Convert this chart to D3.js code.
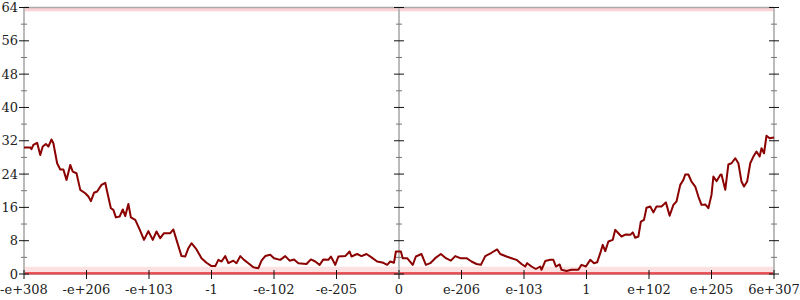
<!DOCTYPE html>
<html>
<head>
<meta charset="utf-8">
<script src="https://cdnjs.cloudflare.com/ajax/libs/d3/7.8.5/d3.min.js"></script>
<style>
    body { margin: 0; background: white; }
    svg text { font-family: "DejaVu Serif", serif; font-size: 13px; fill: #222; }
</style>
</head>
<body>
<div id="chart"></div>
<script>

// x-axis: 13 evenly spaced positions over the float range
var xTickLabels = ["-e+308", "-e+206", "-e+103", "-1", "-e-102", "-e-205", "0",
    "e-206", "e-103", "1", "e+102", "e+205", "6e+307"];

var yTicks = [0, 8, 16, 24, 32, 40, 48, 56, 64];
var yMinorTicks = [4, 12, 20, 28, 36, 44, 52, 60];

// bits of error, position in tick units (0..12)
var errX = [0, 0.10, 0.12, 0.15, 0.21, 0.26, 0.30, 0.35, 0.39, 0.44, 0.47, 0.53, 0.58, 0.63, 0.68, 0.74,
    0.78, 0.84, 0.90, 0.98, 1.03, 1.07, 1.12, 1.17, 1.24, 1.30, 1.33, 1.39, 1.43, 1.47, 1.53, 1.58,
    1.62, 1.67, 1.71, 1.78, 1.85, 1.92, 1.99, 2.06, 2.12, 2.18, 2.24, 2.34, 2.39, 2.44, 2.52, 2.58,
    2.63, 2.68, 2.76, 2.84, 2.92, 3.00, 3.06, 3.11, 3.16, 3.22, 3.27, 3.35, 3.40, 3.46, 3.52, 3.59,
    3.67, 3.75, 3.80, 3.86, 3.94, 4.00, 4.10, 4.18, 4.25, 4.32, 4.39, 4.52, 4.59, 4.66, 4.73, 4.79,
    4.87, 4.91, 4.98, 5.03, 5.14, 5.21, 5.24, 5.33, 5.40, 5.48, 5.56, 5.65, 5.75, 5.81, 5.86, 5.92,
    5.95, 6.03, 6.06, 6.13, 6.22, 6.27, 6.36, 6.43, 6.50, 6.58, 6.67, 6.75, 6.83, 6.90, 6.98, 7.08,
    7.16, 7.24, 7.31, 7.38, 7.48, 7.57, 7.62, 7.72, 7.80, 7.88, 7.96, 8.02, 8.05, 8.12, 8.19, 8.26,
    8.28, 8.34, 8.42, 8.47, 8.51, 8.57, 8.60, 8.68, 8.76, 8.87, 8.92, 8.99, 9.06, 9.12, 9.17, 9.22,
    9.26, 9.30, 9.35, 9.42, 9.46, 9.51, 9.56, 9.63, 9.70, 9.74, 9.78, 9.83, 9.87, 9.92, 9.96, 10.02,
    10.07, 10.12, 10.20, 10.27, 10.33, 10.39, 10.44, 10.50, 10.55, 10.58, 10.63, 10.68, 10.74, 10.79, 10.84, 10.90,
    10.95, 11.00, 11.03, 11.08, 11.14, 11.16, 11.22, 11.27, 11.32, 11.38, 11.43, 11.48, 11.52, 11.57, 11.62, 11.67,
    11.72, 11.77, 11.80, 11.84, 11.88, 11.93, 12];

var errY = [30.4, 30.4, 30.0, 31.0, 31.5, 28.6, 30.6, 31.2, 30.6, 32.3, 31.4, 26.6, 25.1, 25.1, 22.6, 26.2,
    24.6, 24.2, 20.2, 19.4, 18.6, 17.5, 19.5, 19.8, 21.4, 21.9, 19.8, 15.8, 15.4, 13.6, 13.8, 15.5,
    13.9, 16.8, 13.6, 13.0, 10.7, 8.2, 10.3, 8.2, 10.2, 8.6, 9.8, 9.8, 10.7, 8.2, 4.3, 4.2,
    6.2, 7.4, 5.9, 3.8, 2.7, 1.9, 1.9, 3.4, 3.0, 4.3, 2.6, 3.2, 2.6, 4.3, 3.4, 2.6,
    1.6, 1.4, 3.2, 4.3, 4.6, 3.8, 3.4, 4.3, 3.2, 3.5, 2.6, 2.4, 3.5, 3.0, 2.2, 3.5,
    3.4, 4.2, 2.2, 4.2, 4.3, 5.4, 4.2, 4.8, 4.3, 4.8, 4.0, 3.0, 2.7, 2.2, 3.0, 2.7,
    5.4, 5.4, 3.8, 3.8, 2.2, 4.2, 4.8, 2.2, 2.6, 3.8, 4.8, 3.8, 3.2, 4.3, 3.8, 3.8,
    3.0, 2.4, 2.2, 4.3, 5.1, 5.9, 4.8, 4.2, 3.8, 3.4, 2.4, 1.8, 2.6, 1.8, 1.2, 1.8,
    1.0, 3.1, 3.4, 3.4, 1.8, 2.3, 1.0, 0.7, 1.0, 1.0, 2.2, 1.8, 3.4, 2.6, 2.8, 5.0,
    7.0, 5.5, 7.8, 8.2, 10.6, 9.8, 9.0, 9.5, 9.4, 10.0, 8.7, 9.0, 12.6, 13.0, 15.9, 16.2,
    14.8, 16.2, 16.2, 17.2, 14.0, 16.6, 17.4, 21.4, 22.6, 23.9, 23.9, 22.2, 21.0, 18.6, 16.6, 16.7,
    15.8, 19.0, 23.4, 22.3, 23.8, 23.9, 20.2, 26.3, 26.6, 27.8, 26.6, 22.2, 21.0, 22.2, 26.6, 28.2,
    29.4, 28.2, 30.2, 29.0, 33.2, 32.6, 32.8];

// faint sampled points piled up at the extremes
var bandLevels = [63.6, 0.3];

var width = 800, height = 300;
var margin = {top: 7.5, right: 26, bottom: 26, left: 24};

var svg = d3.select("#chart").append("svg")
    .attr("width", width)
    .attr("height", height);

var x = d3.scaleLinear()
    .domain([0, xTickLabels.length - 1])
    .range([margin.left, width - margin.right]);

var y = d3.scaleLinear()
    .domain([0, 64])
    .range([height - margin.bottom, margin.top]);

var xIdx = d3.range(xTickLabels.length);

/* red bands of sampled points */
svg.selectAll(".band-soft")
    .data(bandLevels)
    .enter()
    .append("line")
    .attr("class", "band-soft")
    .attr("x1", x(0)).attr("x2", x(12))
    .attr("y1", function(d){ return y(d) - (d < 1 ? 2 : 0) })
    .attr("y2", function(d){ return y(d) - (d < 1 ? 2 : 0) })
    .attr("stroke", "#e8333a")
    .attr("stroke-opacity", function(d){ return d < 1 ? 0.15 : 0.22 })
    .attr("stroke-width", function(d){ return d < 1 ? 8 : 4 });

/* frame lines */
svg.append("line")
    .attr("x1", x(0)).attr("x2", x(12))
    .attr("y1", y(64)).attr("y2", y(64))
    .attr("stroke", "#aaa").attr("stroke-width", 1.5);

svg.append("line")
    .attr("x1", x(0)).attr("x2", x(12))
    .attr("y1", y(0)).attr("y2", y(0))
    .attr("stroke", "#aaa").attr("stroke-width", 1.5);

svg.append("line")
    .attr("x1", x(0)).attr("x2", x(12))
    .attr("y1", y(bandLevels[1]) + 0.5).attr("y2", y(bandLevels[1]) + 0.5)
    .attr("stroke", "#e8333a").attr("stroke-opacity", 0.8).attr("stroke-width", 2.5);

/* three vertical axes: left, centre, right */
var vAxes = [0, 6, 12];

vAxes.forEach(function(pos){
    var ax = svg.append("g");

    ax.append("line")
        .attr("x1", x(pos)).attr("x2", x(pos))
        .attr("y1", y(64)).attr("y2", y(0))
        .attr("stroke", "#bbb").attr("stroke-width", 2);

    ax.selectAll(".minor")
        .data(yMinorTicks)
        .enter()
        .append("line")
        .attr("x1", x(pos) - 3).attr("x2", x(pos) + 3)
        .attr("y1", function(d){ return y(d) }).attr("y2", function(d){ return y(d) })
        .attr("stroke", "#777").attr("stroke-width", 1);

    ax.selectAll(".major")
        .data(yTicks)
        .enter()
        .append("line")
        .attr("x1", x(pos) - 5).attr("x2", x(pos) + 5)
        .attr("y1", function(d){ return y(d) }).attr("y2", function(d){ return y(d) })
        .attr("stroke", "#111").attr("stroke-width", 1);
});

/* y labels */
svg.selectAll(".y-label")
    .data(yTicks)
    .enter()
    .append("text")
    .attr("class", "y-label")
    .attr("x", x(0) - 6)
    .attr("y", function(d){ return y(d) })
    .attr("text-anchor", "end")
    .attr("dominant-baseline", "central")
    .text(function(d){ return d });

/* x ticks + labels */
svg.selectAll(".x-tick")
    .data(xIdx)
    .enter()
    .append("line")
    .attr("class", "x-tick")
    .attr("x1", function(d){ return x(d) }).attr("x2", function(d){ return x(d) })
    .attr("y1", y(0) - 4).attr("y2", y(0) + 5)
    .attr("stroke", "#111").attr("stroke-width", 1);

svg.selectAll(".x-label")
    .data(xIdx)
    .enter()
    .append("text")
    .attr("class", "x-label")
    .attr("x", function(d){ return x(d) })
    .attr("y", 294)
    .attr("text-anchor", "middle")
    .text(function(d){ return xTickLabels[d] });

/* error line */
var points = errX.map(function(d, i){ return [d, errY[i]] });

svg.append("path")
    .datum(points)
    .attr("fill", "none")
    .attr("stroke", "#8b0000")
    .attr("stroke-width", 2)
    .attr("stroke-linejoin", "round")
    .attr("d", d3.line()
        .x(function(d){ return x(d[0]) })
        .y(function(d){ return y(d[1]) }));

</script>
</body>
</html>
